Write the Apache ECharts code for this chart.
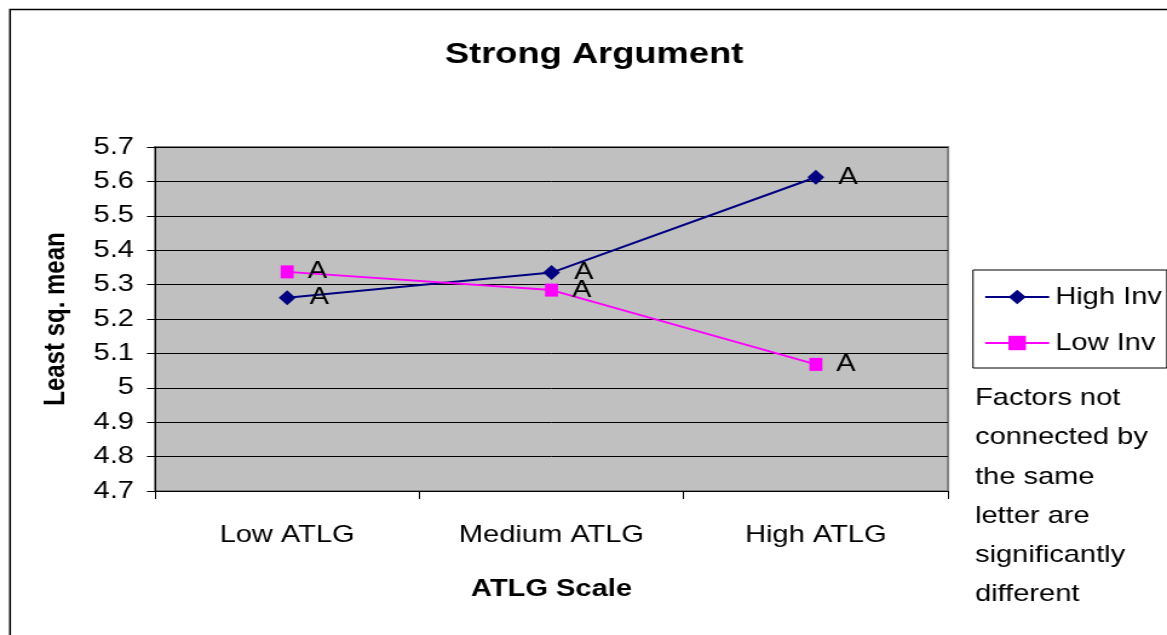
<!DOCTYPE html>
<html>
<head>
<meta charset="utf-8">
<script src="https://cdn.jsdelivr.net/npm/echarts@6/dist/echarts.min.js"></script>
<style>
html,body{margin:0;padding:0;background:#fff;overflow:hidden;}
#wrap{width:1167px;height:635px;overflow:hidden;}
#chart{width:964px;height:635px;transform-origin:0 0;}
</style>
</head>
<body>
<div id="wrap"><div id="chart"></div></div>
<script>
const categories = ['Low ATLG', 'Medium ATLG', 'High ATLG'];
const highInv = [5.262, 5.335, 5.612];
const lowInv = [5.337, 5.284, 5.068];
const highInvLetters = ['A', 'A', 'A'];
const lowInvLetters = ['A', 'A', 'A'];
const yMin = 4.7, yMax = 5.7, yStep = 0.1;
const noteLines = ['Factors not', 'connected by', 'the same', 'letter are', 'significantly', 'different'];

// The reference image is horizontally stretched; draw at a narrower width and stretch.
const W = 964, SX = 1167 / W;
document.getElementById('chart').style.transform = 'scaleX(' + SX + ')';
const X = px => px / SX;   // convert reference x-distance to chart units

const FONT = '"Liberation Sans", Arial, sans-serif';
const chart = echarts.init(document.getElementById('chart'));

function letterLabel(letters) {
  return {
    show: true, position: 'right', distance: X(14),
    fontFamily: FONT, fontSize: 24, color: '#000',
    formatter: p => letters[p.dataIndex]
  };
}

chart.setOption({
  animation: false,
  backgroundColor: '#fff',
  title: {
    text: 'Strong Argument', left: X(588), top: 35, textAlign: 'center',
    textStyle: { fontFamily: FONT, fontSize: 30, fontWeight: 'bold', color: '#000' }
  },
  grid: {
    left: X(155), right: W - X(948), top: 147, bottom: 144,
    show: true, backgroundColor: '#C0C0C0', borderColor: '#808080', borderWidth: 2
  },
  legend: {
    orient: 'vertical', left: X(973), top: 270,
    padding: [13, X(5), 11, X(11)], itemGap: 18,
    itemWidth: X(64), itemHeight: 18,
    borderColor: '#000', borderWidth: 1,
    textStyle: { fontFamily: FONT, fontSize: 24, color: '#000', lineHeight: 28 },
    data: ['High Inv', 'Low Inv']
  },
  xAxis: {
    type: 'category', data: categories, boundaryGap: true,
    name: 'ATLG Scale', nameLocation: 'middle', nameGap: 86,
    nameTextStyle: { fontFamily: FONT, fontSize: 24, fontWeight: 'bold', color: '#000' },
    axisLine: { lineStyle: { color: '#000', width: 1 } },
    axisTick: { show: true, interval: 0, length: 8, lineStyle: { color: '#000' } },
    axisLabel: { fontFamily: FONT, fontSize: 24, color: '#000', margin: 32, interval: 0 },
    splitLine: { show: false }
  },
  yAxis: {
    type: 'value', min: yMin, max: yMax, interval: yStep,
    name: 'Least sq. mean', nameLocation: 'middle', nameGap: X(84), nameRotate: 90,
    nameTextStyle: { fontFamily: FONT, fontSize: 24, fontWeight: 'bold', color: '#000' },
    axisLine: { show: true, lineStyle: { color: '#000', width: 1 } },
    axisTick: { show: true, length: X(8), lineStyle: { color: '#000' } },
    axisLabel: { fontFamily: FONT, fontSize: 24, color: '#000', margin: X(21),
      formatter: v => String(+(+v).toFixed(1)) },
    splitLine: { show: true, lineStyle: { color: '#000', width: 1 } }
  },
  series: [
    {
      name: 'High Inv', type: 'line', data: highInv,
      symbol: 'diamond', symbolSize: [X(17), 15],
      itemStyle: { color: '#000080' },
      lineStyle: { color: '#000080', width: 2 },
      label: letterLabel(highInvLetters)
    },
    {
      name: 'Low Inv', type: 'line', data: lowInv,
      symbol: 'rect', symbolSize: [X(13), 13],
      itemStyle: { color: '#FF00FF' },
      lineStyle: { color: '#FF00FF', width: 2 },
      label: letterLabel(lowInvLetters)
    }
  ],
  graphic: [
    {
      type: 'rect', left: X(7), top: 7, silent: true,
      shape: { width: 1300, height: 800 },
      style: { fill: 'none', stroke: '#000', lineWidth: 1.5 }
    },
    {
      type: 'text', left: X(975), top: 379,
      style: {
        text: noteLines.join('\n'), fontFamily: FONT, fontSize: 24,
        lineHeight: 39.2, fill: '#000'
      }
    }
  ]
});
</script>
</body>
</html>
